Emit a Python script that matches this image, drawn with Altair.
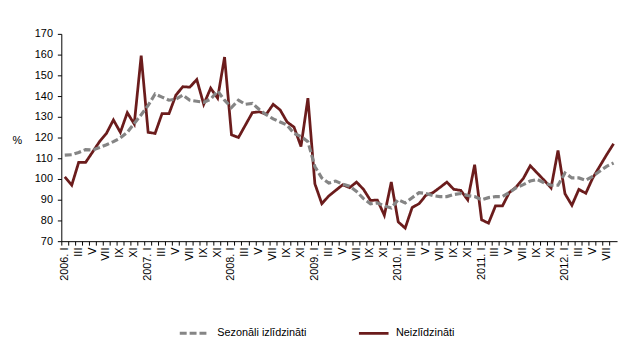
import json
import altair as alt
import pandas as pd

years = ["2006", "2007", "2008", "2009", "2010", "2011", "2012"]
roman = ["I", "II", "III", "IV", "V", "VI", "VII", "VIII", "IX", "X", "XI", "XII"]
series_names = ["Sezonāli izlīdzināti", "Neizlīdzināti"]

adjusted = [
    111.5, 111.7, 112.8, 114.2, 114.0, 115.2, 116.5, 118.0, 119.8, 122.5, 126.8, 131.0,
    135.5, 141.0, 139.5, 138.0, 138.5, 140.5, 138.0, 137.5, 137.0, 138.5, 142.5, 138.0,
    134.5, 138.0, 136.0, 136.5, 133.5, 131.0, 129.0, 127.5, 126.0, 122.0, 120.5, 118.0,
    106.0, 100.5, 98.0, 99.0, 97.5, 96.5, 94.0, 90.5, 88.0, 88.5, 87.0, 86.0,
    90.0, 88.5, 91.0, 93.4, 93.0, 92.0, 91.5, 91.5, 92.5, 93.0, 92.0, 91.5,
    90.0, 91.0, 91.5, 91.5, 93.5, 95.8, 97.3, 99.0, 99.8, 98.2, 97.0, 97.0,
    102.9, 100.5, 100.5, 99.4, 101.3, 103.7, 106.1, 107.7,
]
unadjusted = [
    101.0, 97.0, 108.0, 108.0, 113.0, 118.0, 122.0, 128.5, 122.5, 132.0, 126.5, 159.5,
    122.5, 122.0, 131.5, 131.5, 140.5, 144.5, 144.3, 148.0, 136.0, 143.8, 139.0, 158.8,
    121.3, 120.0, 126.0, 132.0, 132.4, 131.2, 136.0, 133.3, 127.5, 125.0, 115.7, 139.0,
    97.7, 88.1, 91.8, 94.5, 97.2, 95.8, 98.5, 95.0, 89.7, 89.8, 82.5, 98.5,
    79.3, 76.3, 86.2, 88.1, 92.2, 93.4, 95.9, 98.5, 95.0, 94.5, 89.9, 106.9,
    80.3, 78.7, 87.0, 87.0, 93.5, 96.2, 100.2, 106.4, 102.9, 99.4, 95.7, 113.8,
    92.9, 87.3, 95.0, 93.1, 100.5, 106.1, 111.7, 117.0,
]

# tick labels: year on January, roman numeral on every other month, blank otherwise
labels = []
for i in range(len(unadjusted)):
    y, m = divmod(i, 12)
    if m == 0:
        labels.append(f"{years[y]}. I")
    elif m % 2 == 0:
        labels.append(roman[m])
    else:
        labels.append("")

rows = []
for i, v in enumerate(adjusted):
    rows.append({"i": i, "series": series_names[0], "value": v})
for i, v in enumerate(unadjusted):
    rows.append({"i": i, "series": series_names[1], "value": v})
df = pd.DataFrame(rows)

FONT = "Liberation Sans"

legend = alt.Legend(
    title=None, orient="none", legendX=118, legendY=286, direction="horizontal",
    symbolType="stroke", symbolSize=900, symbolStrokeWidth=3,
    labelFont=FONT, labelFontSize=11, labelColor="#000000", labelOffset=6,
    columnPadding=46,
)

base = alt.Chart(df).mark_line().encode(
    x=alt.X(
        "i:O", bandPosition=0.5,
        scale=alt.Scale(type="band", paddingInner=0, paddingOuter=0),
        axis=alt.Axis(
            title=None, bandPosition=0, labelAngle=270, labelExpr=f"{json.dumps(labels)}[datum.value]",
            labelOverlap=False, labelFont=FONT, labelFontSize=11, labelColor="#000000",
            labelPadding=2, tickSize=4, tickColor="#000000", domainColor="#000000",
            grid=False,
        ),
    ),
    y=alt.Y(
        "value:Q",
        scale=alt.Scale(domain=[70, 170], nice=False, zero=False),
        axis=alt.Axis(
            values=list(range(70, 171, 10)), title="%", titleAngle=0, titleX=-45, titleY=108,
            titleAlign="center", titleBaseline="middle", titleFont=FONT, titleFontSize=11,
            titleFontWeight="normal", titleColor="#000000",
            labelFont=FONT, labelFontSize=11, labelColor="#000000", labelPadding=5,
            tickSize=4, tickColor="#000000", domainColor="#000000", grid=False,
        ),
    ),
    color=alt.Color("series:N", scale=alt.Scale(domain=series_names, range=["#858585", "#6b1c1c"]), legend=legend),
    strokeDash=alt.StrokeDash("series:N", scale=alt.Scale(domain=series_names, range=[[7, 3], [1, 0]]), legend=legend),
    strokeWidth=alt.StrokeWidth("series:N", scale=alt.Scale(domain=series_names, range=[3.2, 2.8]), legend=None),
)

solid = base.transform_filter(alt.datum.series == series_names[1])
dashed = base.transform_filter(alt.datum.series == series_names[0])

chart = alt.layer(solid, dashed).properties(
    width=563, height=210,
    autosize=alt.AutoSizeParams(type="none"),
    padding={"left": 54, "top": 24, "right": 5, "bottom": 106},
    background="#ffffff",
).configure_view(stroke=None)

chart.save("out.html", embed_options={"renderer": "svg", "actions": False})
